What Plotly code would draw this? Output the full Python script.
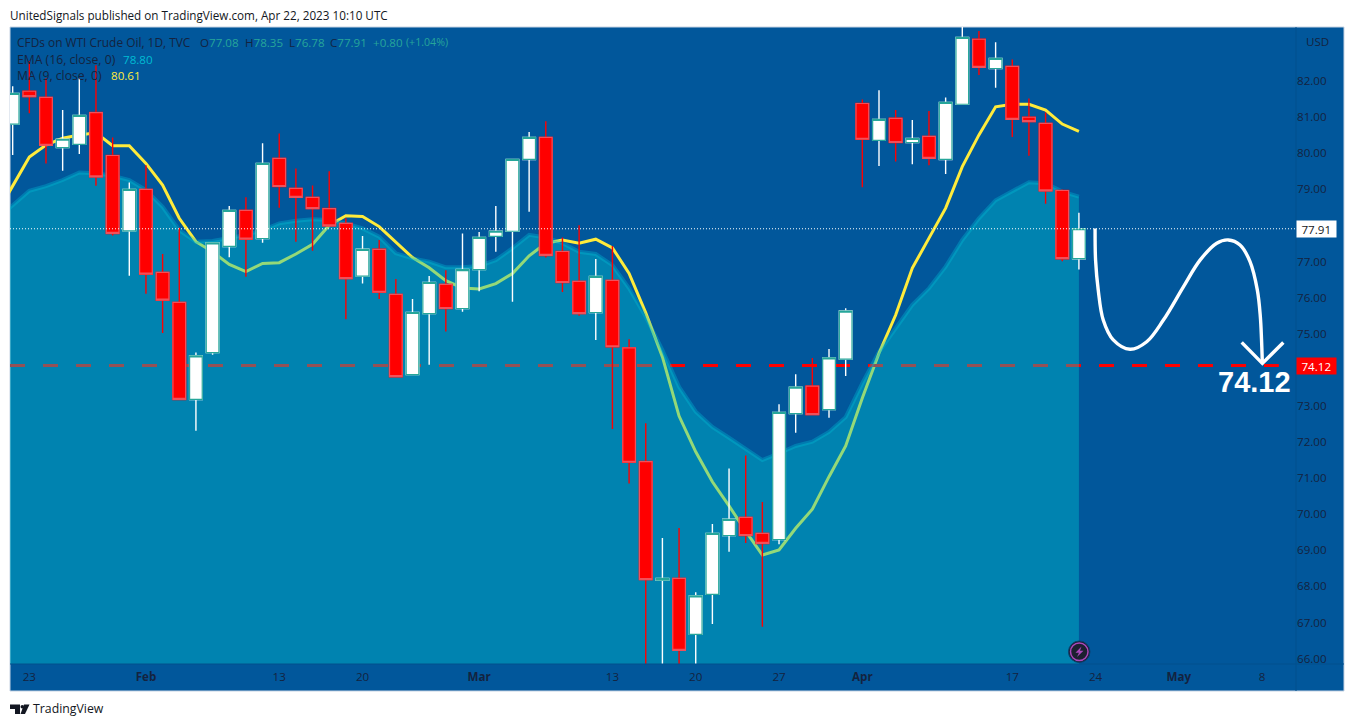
import plotly.graph_objects as go

# ---- data ----
opens = [80.81,81.72,81.55,80.16,80.25,81.13,79.94,77.85,79.00,76.70,75.87,73.18,74.48,77.42,78.42,77.64,79.86,79.03,78.78,78.47,
         78.06,76.60,77.34,76.09,73.87,75.56,76.37,75.70,76.78,77.70,77.84,79.83,80.44,77.28,76.45,75.59,76.48,74.61,71.46,68.17,
         68.22,66.67,67.78,69.41,69.91,69.47,69.30,72.79,73.55,72.90,74.30,81.38,80.36,80.97,80.30,80.47,79.83,81.36,83.16,82.35,
         82.41,81.00,80.83,78.97,77.08]
highs = [81.86,82.56,82.08,81.20,82.08,82.44,80.44,79.19,79.67,77.21,77.94,74.48,77.52,78.54,78.78,80.28,80.55,79.58,79.11,79.50,
         78.20,77.71,77.60,76.52,75.96,76.60,76.76,77.78,77.82,78.54,79.83,80.59,80.89,77.67,78.01,77.07,77.43,74.85,72.52,69.34,
         69.62,67.84,69.73,71.27,71.63,70.34,73.05,73.88,74.33,74.58,75.71,81.49,81.75,81.20,80.92,81.17,81.55,83.55,83.39,83.08,
         82.60,81.52,81.13,79.00,78.35]
lows = [79.95,81.11,79.72,79.52,79.98,79.10,77.72,76.61,76.11,75.02,73.18,72.31,74.42,77.12,76.58,77.52,78.49,77.55,77.30,77.99,
        75.40,76.39,75.96,73.81,73.87,74.14,75.06,75.61,76.18,77.27,75.89,78.38,77.11,76.16,75.50,74.83,72.36,70.85,65.70,65.70,
        65.70,65.70,66.96,68.96,69.20,66.88,69.17,72.26,72.76,72.67,73.83,79.06,79.65,79.77,79.70,79.67,79.43,81.36,82.17,81.82,
        80.45,79.93,78.60,77.01,76.78]
closes = [81.66,81.57,80.22,80.39,81.05,79.35,77.78,79.00,76.65,75.93,73.18,74.39,77.52,78.42,77.62,79.72,79.08,78.78,78.47,77.99,
          76.53,77.34,76.15,73.81,75.59,76.42,75.70,76.78,77.67,77.84,79.83,80.44,77.17,76.42,75.56,76.59,74.64,71.44,68.19,68.22,
          66.23,67.74,69.47,69.86,69.41,69.19,72.82,73.52,72.76,74.33,75.63,80.39,80.94,80.30,80.41,79.86,81.41,83.21,82.38,82.63,
          80.94,80.88,78.96,77.08,77.91]

# moving averages start one bar earlier (bar -1 is off the left edge)
ma9 = [78.29,79.11,79.90,80.23,80.42,80.51,80.57,80.21,80.21,79.72,79.12,78.20,77.55,77.27,76.92,76.72,76.95,76.97,77.21,77.48,78.01,
       78.27,78.25,77.97,77.55,77.11,76.83,76.47,76.27,76.24,76.39,76.67,77.16,77.51,77.60,77.51,77.62,77.38,76.67,75.58,74.36,
       72.72,71.73,70.90,70.23,69.53,68.87,69.01,69.61,70.14,71.04,71.89,73.22,74.46,75.52,76.82,77.65,78.48,79.63,80.51,81.29,
       81.36,81.36,81.20,80.81,80.61]
ema16 = [78.16,78.57,78.96,79.09,79.26,79.47,79.45,79.38,79.26,78.98,78.52,77.87,77.55,77.57,77.66,77.74,77.87,78.06,78.13,78.17,78.15,
         78.06,77.92,77.69,77.23,77.09,77.00,76.84,76.84,76.88,77.04,77.37,77.74,77.67,77.51,77.27,77.21,76.90,76.26,75.47,74.55,
         73.53,72.84,72.42,72.12,71.82,71.50,71.69,71.89,72.01,72.28,72.69,73.63,74.50,75.15,75.80,76.26,76.86,77.60,78.20,78.70,
         78.96,79.20,79.17,78.94,78.80]

last_close = 77.91
target = 74.12

# hand-drawn arrow (bar number, price)
arrow_x = [64.97,65.00,65.16,65.46,66.06,67.07,68.07,69.07,70.27,71.27,72.27,72.97,73.67,74.27,74.71,74.89,74.96,75.01]
arrow_y = [77.92,77.04,76.21,75.38,74.83,74.57,74.78,75.38,76.30,77.04,77.51,77.60,77.46,77.00,76.21,75.47,74.85,74.18]
head_x = [73.77,75.01,76.27]
head_y = [74.76,74.18,74.76]

tick_bars = [1,8,16,21,28,36,41,46,51,60,65,70,75]
tick_text = ["23","<b>Feb</b>","13","20","<b>Mar</b>","13","20","27","<b>Apr</b>","17","24","<b>May</b>","8"]
price_ticks = [66,67,68,69,70,71,72,73,75,76,77,79,80,81,82]

# ---- styles ----
PANE = "#01579B"
INK = "#14233f"
FONT = "Open Sans"
FS = 11.6
X_RANGE = [-0.16, 77.03]
Y_RANGE = [65.85, 83.50]
W, H = 1354, 727
L, R, T, B = 10, 58, 27, 63
pw, ph = W-L-R, H-T-B

def px(x):
    return (x-L)/pw
def py(y):
    return (H-B-y)/ph

bars = list(range(len(closes)))
ma_bars = list(range(-1, len(closes)))

fig = go.Figure()
# bottom subplot: things the translucent area tints
fig.add_trace(go.Scatter(x=ma_bars, y=ma9, mode="lines", line=dict(color="#FFEB3B", width=3), hoverinfo="skip"))
fig.add_trace(go.Scatter(x=[X_RANGE[0], 76.0], y=[target, target], mode="lines",
                         line=dict(color="#FF0000", width=3, dash="15px,18px"), hoverinfo="skip"))
fig.add_trace(go.Scatter(x=ma_bars, y=ema16, mode="lines", fill="tozeroy", fillcolor="rgba(0,192,205,0.42)",
                         line=dict(color="rgba(0,190,215,0.35)", width=4), hoverinfo="skip"))
# second subplot: candles
fig.add_trace(go.Candlestick(x=bars, open=opens, high=highs, low=lows, close=closes, xaxis="x2", yaxis="y2",
                             increasing=dict(line=dict(color="#FFFFFF", width=1.4), fillcolor="#FFFFFF"),
                             decreasing=dict(line=dict(color="#FF0000", width=1.4), fillcolor="#FF0000"),
                             whiskerwidth=0, hoverinfo="skip"))
fig.add_trace(go.Candlestick(x=bars, open=opens, close=closes,
                             high=[max(a,b) for a,b in zip(opens,closes)],
                             low=[min(a,b) for a,b in zip(opens,closes)],
                             xaxis="x2", yaxis="y2",
                             increasing=dict(line=dict(color="#26A69A", width=1.2), fillcolor="#FFFFFF"),
                             decreasing=dict(line=dict(color="#F0505A", width=1.2), fillcolor="#FF0000"),
                             whiskerwidth=0, hoverinfo="skip"))
# top subplot: price line and drawing
fig.add_trace(go.Scatter(x=[X_RANGE[0], X_RANGE[1]], y=[last_close, last_close], mode="lines", xaxis="x3", yaxis="y3",
                         line=dict(color="#FFFFFF", width=1, dash="1px,2px"), hoverinfo="skip"))
fig.add_trace(go.Scatter(x=arrow_x, y=arrow_y, mode="lines", xaxis="x3", yaxis="y3",
                         line=dict(color="#FFFFFF", width=3.4, shape="spline", smoothing=1), hoverinfo="skip"))
fig.add_trace(go.Scatter(x=head_x, y=head_y, mode="lines", xaxis="x3", yaxis="y3",
                         line=dict(color="#FFFFFF", width=3.4), hoverinfo="skip"))

shapes = [
    dict(type="rect", xref="paper", yref="paper", x0=px(10), x1=px(1344), y0=py(691), y1=py(27),
         fillcolor=PANE, line=dict(color="#C6D3E3", width=1), layer="below"),
    dict(type="line", xref="paper", yref="paper", x0=px(1296), x1=px(1296), y0=py(691), y1=py(27),
         line=dict(color="#02508D", width=1), layer="above"),
    dict(type="line", xref="paper", yref="paper", x0=px(10), x1=px(1344), y0=py(664), y1=py(664),
         line=dict(color="#02508D", width=1), layer="above"),
    # news marker
    dict(type="circle", xref="paper", yref="paper", x0=px(1068.5), x1=px(1090), y0=py(662.5), y1=py(641),
         fillcolor="#1C2030", line=dict(color="#0B3F70", width=1), layer="above"),
    dict(type="circle", xref="paper", yref="paper", x0=px(1070.5), x1=px(1088), y0=py(660.5), y1=py(643),
         fillcolor="#1C2030", line=dict(color="#AB47BC", width=1.5), layer="above"),
]
def poly(pts, color):
    d = "M " + " L ".join(f"{px(a):.5f},{py(b):.5f}" for a, b in pts) + " Z"
    return dict(type="path", xref="paper", yref="paper", path=d, fillcolor=color, line=dict(width=0), layer="above")
shapes.append(poly([(1081.5,646.5),(1075.5,652.7),(1079,652.7),(1077,657),(1083.5,650.7),(1080,650.7)], "#AB47BC"))
# TradingView logo
shapes.append(poly([(10,704.5),(20,704.5),(20,714),(15,714),(15,709),(10,709)], "#131722"))
shapes.append(poly([(24,704.5),(29.5,704.5),(25,714),(20.5,714)], "#131722"))
shapes.append(dict(type="circle", xref="paper", yref="paper", x0=px(20.5), x1=px(24), y0=py(708.5), y1=py(705),
                   fillcolor="#131722", line=dict(width=0), layer="above"))

def label(text, x, y, color=INK, size=FS, anchor="left"):
    if anchor == "left":
        x -= 2
    return dict(text=text, xref="paper", yref="paper", x=px(x), y=py(y), xanchor=anchor, yanchor="middle",
                showarrow=False, font=dict(family=FONT, size=size, color=color))

GREEN = "#26A69A"
def ohlc(letter, value):
    return f'{letter}<span style="color:{GREEN}">{value}</span>'

annotations = [
    label("UnitedSignals published on TradingView.com, Apr 22, 2023 10:10 UTC", 10, 15, "#131722", 11.7),
    label("TradingView", 33, 709, "#131722", 12.3),
    label("CFDs on WTI Crude Oil, 1D, TVC", 17, 42, INK, 11.9),
    label(ohlc("O", "77.08"), 199.5, 42),
    label(ohlc("H", "78.35"), 244.5, 42),
    label(ohlc("L", "76.78"), 289, 42),
    label(ohlc("C", "77.91"), 329.5, 42),
    label("+0.80", 372.5, 42, GREEN),
    label("(+1.04%)", 405.5, 42, GREEN, 10.6),
    label("EMA (16, close, 0)", 17, 59, INK, 12.2),
    label("78.80", 123, 59, "#00BCD4"),
    label("MA (9, close, 0)", 17, 76, INK, 12.2),
    label("80.61", 110.5, 76, "#FFEB3B"),
    label("USD", 1317, 41, INK, FS, "center"),
    dict(text="77.91", xref="paper", yref="y", x=px(1296), y=last_close, xanchor="left", yanchor="middle",
         width=38.5, height=16, bgcolor="#FFFFFF", borderpad=0, showarrow=False,
         font=dict(family=FONT, size=FS, color="#131722")),
    dict(text="74.12", xref="paper", yref="y", x=px(1296), y=target, xanchor="left", yanchor="middle",
         width=38.5, height=16, bgcolor="#FF0000", borderpad=0, showarrow=False,
         font=dict(family=FONT, size=FS, color="#FFFFFF")),
    dict(text="<b>74.12</b>", xref="x", yref="y", x=74.51, y=73.66, xanchor="center", yanchor="middle", showarrow=False,
         font=dict(family="Liberation Sans", size=29, color="#FFFFFF")),
]

hidden = dict(visible=False, fixedrange=True)
fig.update_layout(
    width=W, height=H, autosize=False, showlegend=False, paper_bgcolor="#FFFFFF", plot_bgcolor="rgba(0,0,0,0)",
    margin=dict(l=L, r=R, t=T, b=B, pad=0), boxgap=0.24, boxgroupgap=0, boxmode="overlay",
    font=dict(family=FONT, size=FS, color=INK), shapes=shapes, annotations=annotations, hovermode=False,
    xaxis=dict(range=X_RANGE, tickmode="array", tickvals=tick_bars, ticktext=tick_text, showgrid=False, zeroline=False,
               ticks="", showline=False, tickfont=dict(family=FONT, size=FS, color=INK), rangeslider=dict(visible=False),
               fixedrange=True, tickangle=0, ticklabelstandoff=4),
    yaxis=dict(range=Y_RANGE, side="right", tickmode="array", tickvals=price_ticks,
               ticktext=[f"{v:.2f}" for v in price_ticks], showgrid=False, zeroline=False, ticks="", showline=False,
               tickfont=dict(family=FONT, size=FS, color=INK), fixedrange=True),
    xaxis2=dict(range=X_RANGE, overlaying="x", rangeslider=dict(visible=False), **hidden),
    yaxis2=dict(range=Y_RANGE, overlaying="y", **hidden),
    xaxis3=dict(range=X_RANGE, overlaying="x", **hidden),
    yaxis3=dict(range=Y_RANGE, overlaying="y", **hidden),
)

fig.write_html("out.html", config={"displayModeBar": False},
               post_script="document.body.style.margin='0';document.body.style.overflow='hidden';")
